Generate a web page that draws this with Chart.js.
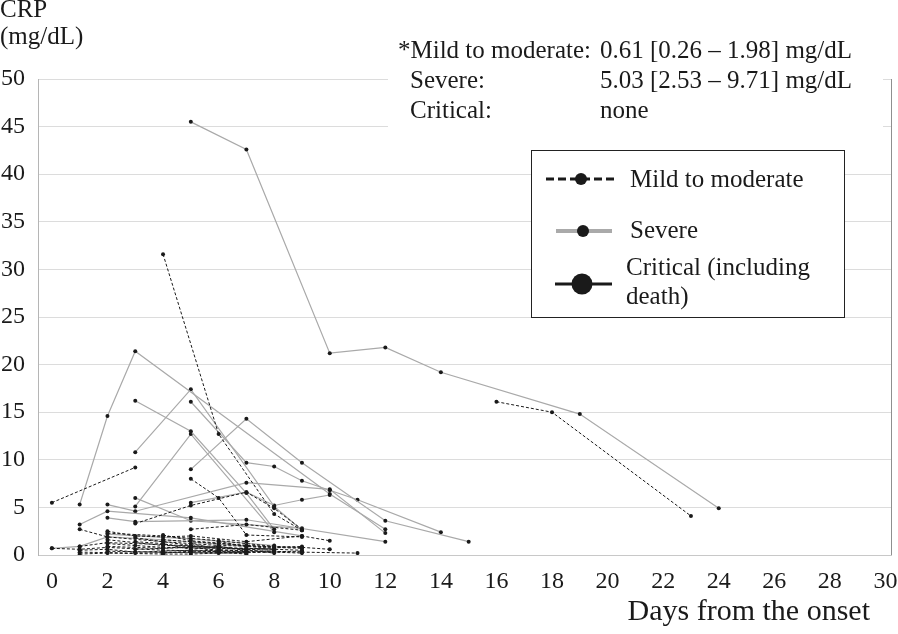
<!DOCTYPE html>
<html>
<head>
<meta charset="utf-8">
<script src="https://cdn.jsdelivr.net/npm/chart.js@4.4.1/dist/chart.umd.min.js"></script>
<style>
  html, body { margin: 0; padding: 0; background: #fff; }
  #wrap { width: 898px; height: 634px; }
</style>
</head>
<body>
<div id="wrap"><canvas id="crpChart" width="898" height="634"></canvas></div>
<script>
// --- Data: [day from onset, CRP mg/dL] ---
const dayTicks = [0, 2, 4, 6, 8, 10, 12, 14, 16, 18, 20, 22, 24, 26, 28, 30];
const crpTicks = [0, 5, 10, 15, 20, 25, 30, 35, 40, 45, 50];

const severeCases = [
    [[5, 45.5], [7, 42.6], [10, 21.2], [12, 21.8], [14, 19.2], [19, 14.8], [24, 4.9]],
    [[1, 5.3], [2, 14.6], [3, 21.4], [10, 6.4], [12, 2.7]],
    [[3, 10.8], [5, 17.4], [8, 5.1], [9, 2.6]],
    [[5, 9.0], [7, 14.3], [9, 9.7], [12, 3.6], [15, 1.4]],
    [[3, 16.2], [5, 13.0], [7, 6.5], [8, 2.7]],
    [[3, 5.1], [5, 12.7], [8, 2.4]],
    [[5, 16.1], [7, 9.7], [8, 9.3], [9, 7.8], [10, 6.8], [11, 5.8], [14, 2.4]],
    [[1, 3.2], [2, 4.6], [5, 3.9], [9, 2.0]],
    [[5, 5.5], [7, 6.6], [8, 5.2], [9, 5.8], [10, 6.3]],
    [[2, 5.3], [3, 4.6], [7, 7.6], [10, 6.9], [12, 2.3]],
    [[2, 3.9], [3, 3.5], [7, 3.7], [12, 1.4]],
    [[3, 6.0], [5, 3.6], [9, 2.8]],
    [[0, 0.7], [1, 0.9], [2, 1.9], [4, 1.6], [7, 0.9]],
    [[2, 2.2], [5, 1.7], [8, 1.0]]
];

const mildCases = [
    [[16, 16.1], [18, 15.0], [23, 4.1]],
    [[4, 31.6], [6, 12.7], [8, 4.3], [9, 2.6]],
    [[0, 5.5], [3, 9.2]],
    [[5, 8.0], [6, 6.0], [7, 2.1], [9, 1.9]],
    [[3, 3.3], [5, 5.2], [7, 6.6], [8, 4.9], [9, 2.7]],
    [[1, 2.7], [2, 1.9], [4, 1.4], [6, 1.0], [9, 0.8]],
    [[0, 0.7], [1, 0.6], [2, 0.8], [4, 0.5], [6, 0.4], [9, 0.3], [11, 0.2]],
    [[5, 2.7], [7, 3.2], [9, 2.6]],
    [[2, 2.5], [3, 2.0], [4, 1.9], [5, 2.0], [7, 1.4], [9, 2.0], [10, 1.5]],
    [[4, 2.1], [5, 1.5], [7, 1.0], [9, 0.8], [10, 0.6]],
    [[1, 0.9], [2, 1.3], [4, 1.1], [6, 0.8], [8, 0.6]],
    [[1, 0.3], [3, 0.2], [5, 0.3], [7, 0.2]],
    [[2, 1.2], [3, 1.0], [4, 0.8], [6, 0.7], [8, 0.5]],
    [[2, 0.4], [4, 0.3], [6, 0.2], [8, 0.3], [9, 0.2]],
    [[3, 0.6], [5, 0.8], [6, 0.5], [8, 0.4]],
    [[4, 0.2], [5, 0.4], [7, 0.3], [9, 0.4]],
    [[1, 0.5], [2, 0.6], [3, 0.3], [5, 0.5], [7, 0.4]],
    [[2, 1.6], [4, 1.0], [6, 0.9], [7, 0.5]],
    [[4, 1.6], [6, 1.2], [8, 0.8], [9, 0.7]],
    [[3, 1.8], [5, 1.0], [6, 0.3], [7, 0.1]],
    [[2, 2.3], [4, 2.0], [6, 1.5], [8, 0.9]],
    [[5, 1.2], [6, 0.6], [7, 0.7], [9, 0.5]],
    [[6, 1.4], [7, 0.9], [8, 0.7]],
    [[1, 0.1], [2, 0.2], [4, 0.1], [5, 0.1], [7, 0.3]],
    [[3, 1.4], [4, 1.2], [5, 0.6], [6, 0.9], [8, 0.2]],
    [[2, 0.9], [4, 0.7], [5, 0.9], [7, 0.6], [9, 0.9]]
];

const criticalCases = [];

const legendLabels = ['Mild to moderate', 'Severe', 'Critical (including', 'death)'];
const noteLabels = ['*Mild to moderate:', 'Severe:', 'Critical:'];
const noteValues = ['0.61 [0.26 \u2013 1.98] mg/dL', '5.03 [2.53 \u2013 9.71] mg/dL', 'none'];

const SERIF = '"Liberation Serif", "DejaVu Serif", serif';
const toPoints = rows => rows.map(r => ({ x: r[0], y: r[1] }));

// --- datasets ---
const datasets = [];
severeCases.forEach(rows => datasets.push({
    data: toPoints(rows),
    showLine: true,
    borderColor: '#a9a9a9',
    borderWidth: 1.2,
    pointRadius: 2,
    pointBackgroundColor: '#1a1a1a',
    pointBorderWidth: 0,
    order: 2
}));
mildCases.forEach(rows => datasets.push({
    data: toPoints(rows),
    showLine: true,
    borderColor: '#1a1a1a',
    borderWidth: 1,
    borderDash: [3, 2],
    pointRadius: 2,
    pointBackgroundColor: '#1a1a1a',
    pointBorderWidth: 0,
    order: 1
}));
criticalCases.forEach(rows => datasets.push({
    data: toPoints(rows),
    showLine: true,
    borderColor: '#000',
    borderWidth: 2,
    pointRadius: 4,
    pointBackgroundColor: '#000',
    order: 0
}));

// --- note box, legend box, titles ---
const overlay = {
    id: 'overlay',
    beforeDatasetsDraw(chart) {
        const ctx = chart.ctx;
        const area = chart.chartArea;
        ctx.save();

        // axis titles
        ctx.fillStyle = '#1a1a1a';
        ctx.textBaseline = 'alphabetic';
        ctx.textAlign = 'left';
        ctx.font = '25px ' + SERIF;
        ctx.fillText('CRP', 0, 17);
        ctx.fillText('(mg/dL)', 0, 44);
        ctx.textAlign = 'right';
        ctx.font = '30px ' + SERIF;
        ctx.fillText('Days from the onset', 870, 620);

        // note box
        ctx.fillStyle = '#fff';
        ctx.fillRect(388, 30, 495, 105);
        ctx.fillStyle = '#1a1a1a';
        ctx.textAlign = 'left';
        ctx.font = '25px ' + SERIF;
        const noteX = [398, 410, 410];
        noteLabels.forEach((t, i) => {
            const y = 58 + i * 30;
            ctx.fillText(t, noteX[i], y);
            ctx.fillText(noteValues[i], 600, y);
        });

        // right frame line
        ctx.strokeStyle = '#8f8f8f';
        ctx.lineWidth = 1;
        ctx.beginPath();
        ctx.moveTo(Math.round(area.right) + 0.5, area.top);
        ctx.lineTo(Math.round(area.right) + 0.5, area.bottom);
        ctx.stroke();

        // legend box
        ctx.fillStyle = '#fff';
        ctx.fillRect(531, 150, 314, 167);
        ctx.strokeStyle = '#222';
        ctx.lineWidth = 1;
        ctx.strokeRect(531.5, 150.5, 313, 167);

        // mild symbol
        ctx.strokeStyle = '#1a1a1a';
        ctx.lineWidth = 3;
        ctx.setLineDash([8, 4]);
        ctx.beginPath(); ctx.moveTo(546, 179); ctx.lineTo(617, 179); ctx.stroke();
        ctx.setLineDash([]);
        ctx.fillStyle = '#1a1a1a';
        ctx.beginPath(); ctx.arc(581, 179, 6, 0, Math.PI * 2); ctx.fill();

        // severe symbol
        ctx.strokeStyle = '#aaaaaa';
        ctx.lineWidth = 4;
        ctx.beginPath(); ctx.moveTo(556, 231); ctx.lineTo(612, 231); ctx.stroke();
        ctx.beginPath(); ctx.arc(583, 231, 6, 0, Math.PI * 2); ctx.fill();

        // critical symbol
        ctx.strokeStyle = '#1a1a1a';
        ctx.lineWidth = 3;
        ctx.beginPath(); ctx.moveTo(555, 284); ctx.lineTo(612, 284); ctx.stroke();
        ctx.beginPath(); ctx.arc(582, 284, 10.5, 0, Math.PI * 2); ctx.fill();

        ctx.font = '25px ' + SERIF;
        ctx.fillText(legendLabels[0], 630, 187);
        ctx.fillText(legendLabels[1], 630, 238);
        ctx.fillText(legendLabels[2], 626, 275);
        ctx.fillText(legendLabels[3], 626, 304);

        ctx.restore();
    }
};

new Chart(document.getElementById('crpChart').getContext('2d'), {
    type: 'scatter',
    data: { datasets: datasets },
    options: {
        responsive: false,
        animation: false,
        layout: { padding: { top: 79, right: 7, left: 0, bottom: 0 } },
        plugins: {
            legend: { display: false },
            tooltip: { enabled: false }
        },
        scales: {
            x: {
                type: 'linear',
                min: -0.5,
                max: 30.2,
                afterBuildTicks: s => { s.ticks = dayTicks.map(v => ({ value: v })); },
                afterFit: s => { s.height = 79; s.paddingLeft = 0; s.paddingRight = 0; },
                grid: { display: false, drawTicks: false },
                border: { display: true, color: '#c8c8c8' },
                ticks: { padding: 12, color: '#1a1a1a', maxRotation: 0, autoSkip: false, font: { family: SERIF, size: 24 } }
            },
            y: {
                min: 0,
                max: 50,
                afterBuildTicks: s => { s.ticks = crpTicks.map(v => ({ value: v })); },
                afterFit: s => { s.width = 38; },
                grid: { color: '#dcdcdc', drawTicks: false },
                border: { display: true, color: '#b5b5b5' },
                ticks: { padding: 13, color: '#1a1a1a', font: { family: SERIF, size: 24 } }
            }
        }
    },
    plugins: [overlay]
});
</script>
</body>
</html>
